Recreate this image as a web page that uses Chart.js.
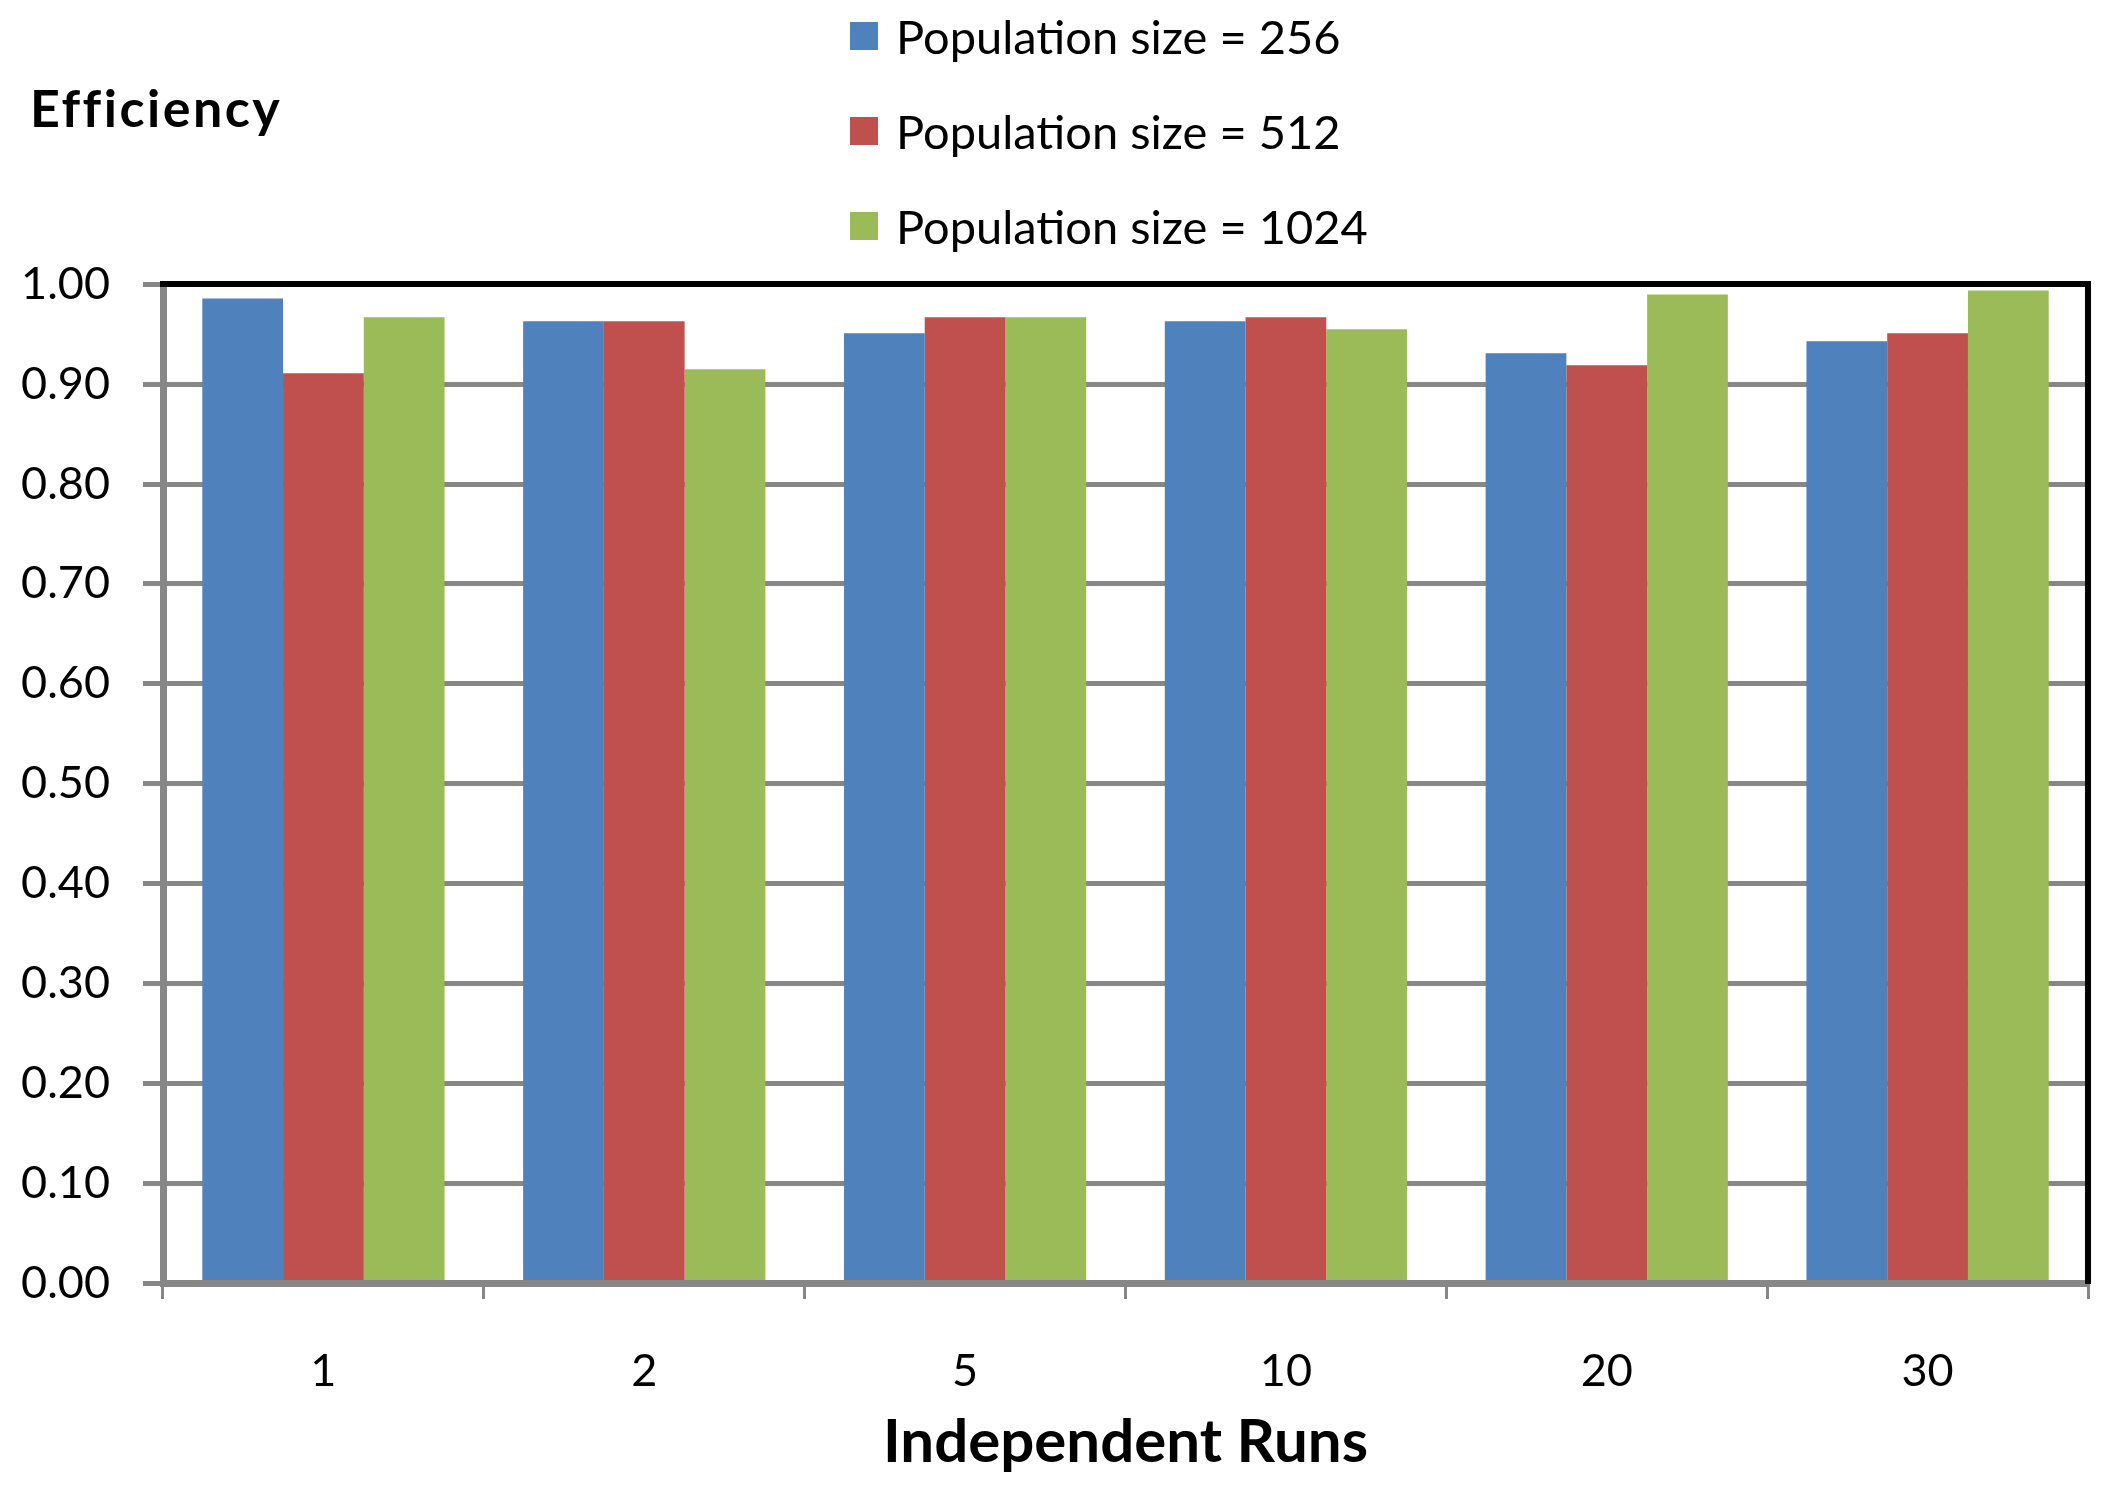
<!DOCTYPE html>
<html>
<head>
<meta charset="utf-8">
<script src="https://cdn.jsdelivr.net/npm/chart.js@4/dist/chart.umd.min.js"></script>
<style>
  html, body { margin: 0; padding: 0; background: #fff; }
  #wrap { position: relative; width: 2104px; height: 1485px; }
  #legend { position: absolute; left: 850px; top: -12px; font-family: Lato, sans-serif; font-size: 47px; color: #000; }
  .leg-row { height: 95px; display: flex; align-items: center; }
  .leg-box { width: 28px; height: 28px; margin-right: 18px; }
  #ytitle { position: absolute; left: 30px; top: 75px; height: 64px; line-height: 64px;
            font-family: Lato, sans-serif; font-weight: bold; font-size: 52px; letter-spacing: 2.5px; color: #000; }
</style>
</head>
<body>
<div id="wrap">
  <canvas id="chart" width="2104" height="1485"></canvas>
  <div id="legend"></div>
  <div id="ytitle">Efficiency</div>
</div>
<script>
// categories + series
const runs = ["1", "2", "5", "10", "20", "30"];
const pop256  = [0.986, 0.963, 0.951, 0.963, 0.931, 0.943];
const pop512  = [0.911, 0.963, 0.967, 0.967, 0.919, 0.951];
const pop1024 = [0.967, 0.915, 0.967, 0.955, 0.990, 0.994];
const seriesNames = ["Population size = 256", "Population size = 512", "Population size = 1024"];
const seriesColors = ["#4F81BD", "#C0504D", "#9BBB59"];

const GRID = "#878787";
const FONT = "Lato, sans-serif";

const datasets = [pop256, pop512, pop1024].map((vals, i) => ({
  label: seriesNames[i],
  data: vals,
  backgroundColor: seriesColors[i],
  borderWidth: 0,
  barPercentage: 1.0,
  categoryPercentage: 0.755,
}));

// ── legend (stacked, top centre) ─────────────────────────────
document.getElementById("legend").innerHTML = seriesNames.map((n, i) =>
  `<div class="leg-row"><div class="leg-box" style="background:${seriesColors[i]}"></div><span>${n}</span></div>`
).join("");

new Chart(document.getElementById("chart").getContext("2d"), {
  type: "bar",
  data: { labels: runs, datasets },
  options: {
    responsive: false,
    devicePixelRatio: 1,
    animation: false,
    layout: { padding: { left: 0, right: 16, top: 284.4, bottom: 0 } },
    plugins: {
      legend: { display: false },
      tooltip: { enabled: false },
    },
    scales: {
      x: {
        grid: { display: true, offset: true, drawOnChartArea: false, drawTicks: true, tickLength: 16, color: GRID, lineWidth: 3 },
        border: { color: GRID, width: 7, z: 1 },
        ticks: { color: "#000", font: { family: FONT, size: 45, lineHeight: 1.2 }, padding: 45, maxRotation: 0 },
        title: { display: true, text: "Independent Runs", color: "#000",
                 font: { family: FONT, size: 60, weight: "bold", lineHeight: 1.2 }, padding: { top: 0, bottom: 6 } },
        afterFit: s => { s.height = 202; },
      },
      x2: {
        type: "category", position: "top", labels: runs,
        grid: { display: false, drawTicks: false },
        ticks: { display: false },
        border: { color: "#000", width: 6, z: 1 },
        afterFit: s => { s.height = 0; },
      },
      y: {
        min: 0, max: 1,
        grid: { color: GRID, lineWidth: 5, drawTicks: true, tickLength: 20 },
        border: { color: GRID, width: 7 },
        ticks: { stepSize: 0.1, color: "#000", padding: 33,
                 font: { family: FONT, size: 45, lineHeight: 1.2 },
                 callback: v => Number(v).toFixed(2) },
        afterFit: s => { s.width = 163; },
      },
      y2: {
        position: "right", min: 0, max: 1,
        grid: { display: false, drawTicks: false },
        ticks: { display: false },
        border: { color: "#000", width: 6, z: 1 },
        afterFit: s => { s.width = 0; },
      },
    },
  },
});
</script>
</body>
</html>
